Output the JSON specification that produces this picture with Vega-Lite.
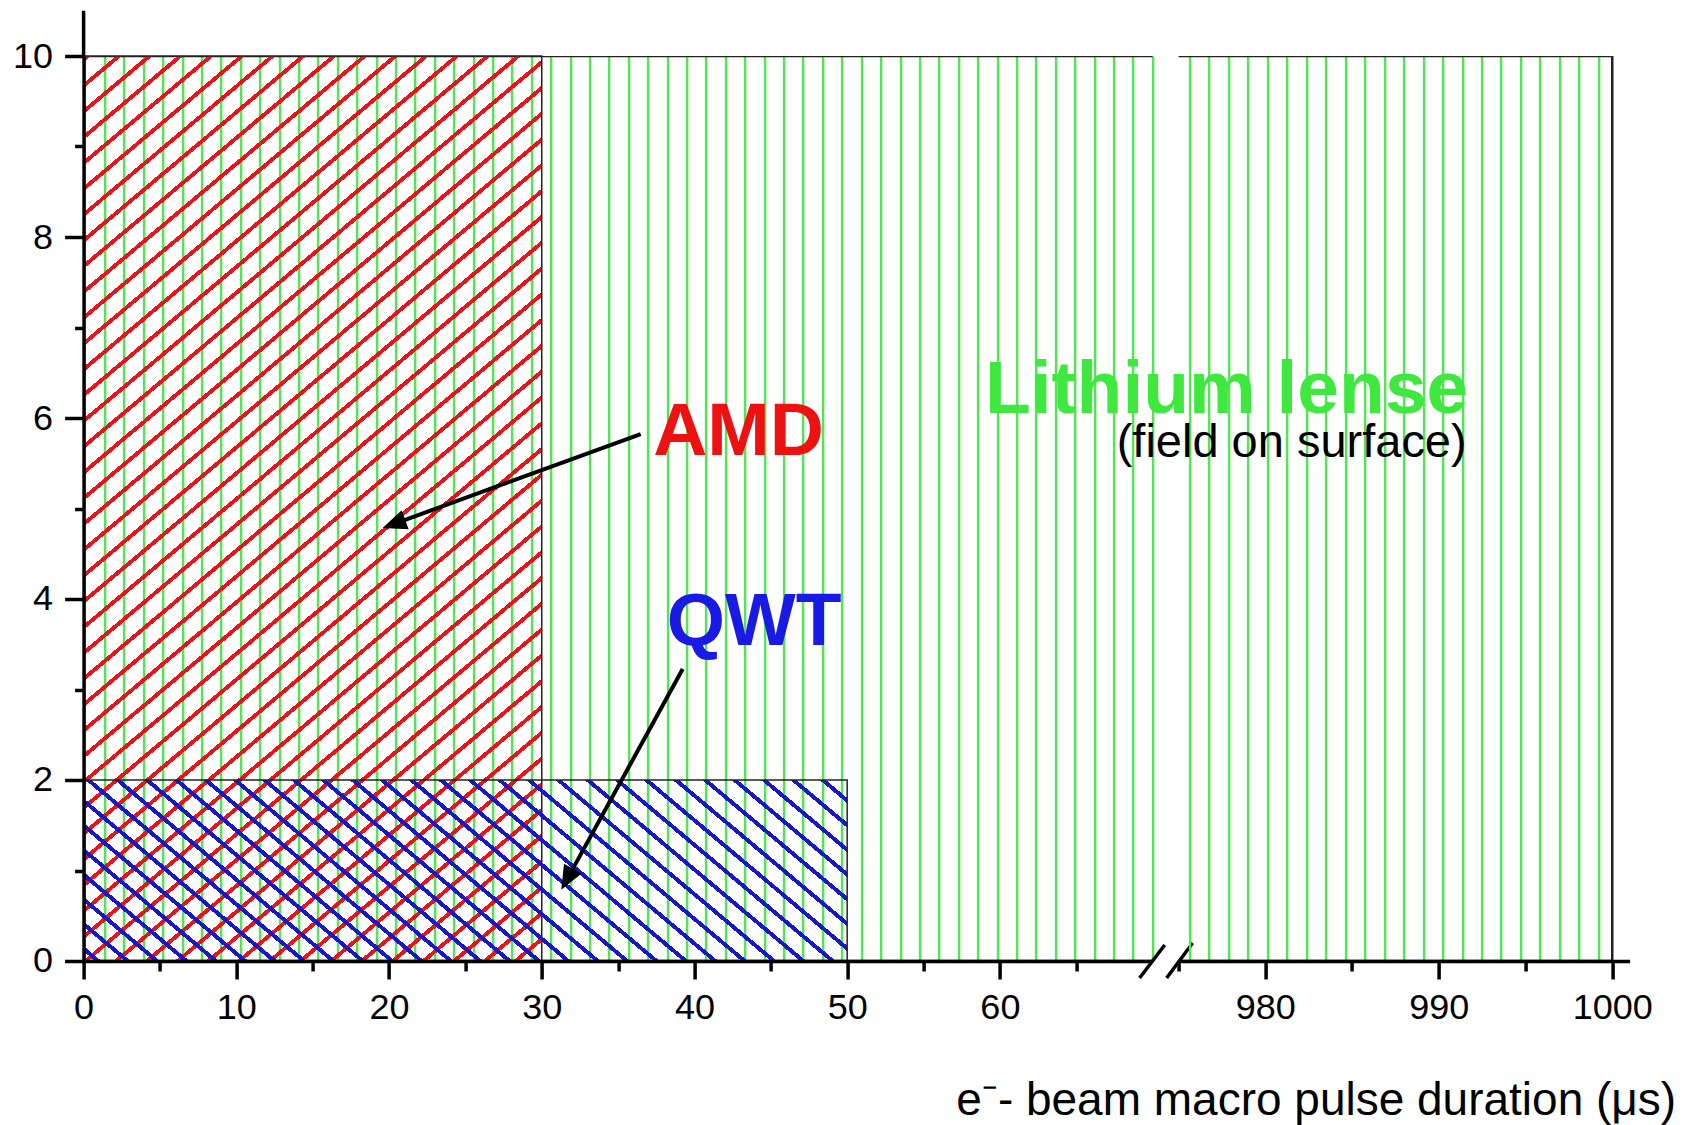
{
  "$schema": "https://vega.github.io/schema/vega-lite/v6.json",
  "background": "white",
  "padding": {"left": 11.6, "top": 8, "right": 5, "bottom": 5},
  "autosize": {"type": "pad"},
  "bounds": "flush",
  "spacing": 26,
  "config": {
    "view": {"stroke": null},
    "font": "Liberation Sans",
    "axis": {"domainColor": "#000", "domainWidth": 3.5, "tickColor": "#000", "tickWidth": 3.5, "labelColor": "#000", "labelFont": "Liberation Sans", "titleFont": "Liberation Sans", "titleColor": "#000", "labelFlush": false}
  },
  "data": {"values": [
    {"device": "Lithium lense", "t_min": 0, "t_max": 1000, "field": 10},
    {"device": "AMD", "t_min": 0, "t_max": 30, "field": 10},
    {"device": "QWT", "t_min": 0, "t_max": 50, "field": 2}
  ]},
  "hconcat": [
    {
      "width": 1069,
      "height": 905,
      "resolve": {"axis": {"x": "independent", "y": "independent"}},
      "layer": [
        {
          "transform": [{"filter": "datum.device === 'Lithium lense'"}],
          "mark": {"type": "rect", "clip": true, "fill": "transparent", "stroke": "#222", "strokeWidth": 2.5},
          "encoding": {
            "x": {"field": "t_min", "type": "quantitative", "scale": {"domain": [0, 70], "nice": false, "zero": false},
              "axis": {"orient": "bottom", "values": [0,5,10,15,20,25,30,35,40,45,50,55,60,65], "labelExpr": "datum.value % 10 === 0 ? datum.label : ''", "tickSize": {"condition": {"test": "datum.value % 10 === 0", "value": 18}, "value": 10}, "labelFontSize": 36, "labelPadding": 12, "labelFlush": false, "title": null, "grid": false, "zindex": 1}},
            "x2": {"field": "t_max"},
            "y": {"field": "field", "type": "quantitative", "scale": {"domain": [0, 10], "nice": false},
              "axis": {"orient": "left", "values": [0,2,4,6,8,10], "tickSize": 19, "labelFontSize": 36, "labelPadding": 12, "labelFlush": false, "title": null, "grid": false, "zindex": 1}},
            "y2": {"datum": 0}
          }
        },
        {
          "transform": [{"filter": "datum.device === 'AMD'"}],
          "mark": {"type": "rect", "stroke": "#222", "strokeWidth": 1.5,
            "fill": {"gradient": "linear", "x1": 0, "y1": 0, "x2": 0.5129, "y2": 1.207, "stops": [
{"offset":0.001,"color":"transparent"},{"offset":0.001,"color":"#e8141c"},{"offset":0.005,"color":"#e8141c"},{"offset":0.005,"color":"transparent"},
{"offset":0.021,"color":"transparent"},{"offset":0.021,"color":"#e8141c"},{"offset":0.025,"color":"#e8141c"},{"offset":0.025,"color":"transparent"},
{"offset":0.041,"color":"transparent"},{"offset":0.041,"color":"#e8141c"},{"offset":0.045,"color":"#e8141c"},{"offset":0.045,"color":"transparent"},
{"offset":0.061,"color":"transparent"},{"offset":0.061,"color":"#e8141c"},{"offset":0.065,"color":"#e8141c"},{"offset":0.065,"color":"transparent"},
{"offset":0.081,"color":"transparent"},{"offset":0.081,"color":"#e8141c"},{"offset":0.085,"color":"#e8141c"},{"offset":0.085,"color":"transparent"},
{"offset":0.101,"color":"transparent"},{"offset":0.101,"color":"#e8141c"},{"offset":0.105,"color":"#e8141c"},{"offset":0.105,"color":"transparent"},
{"offset":0.121,"color":"transparent"},{"offset":0.121,"color":"#e8141c"},{"offset":0.125,"color":"#e8141c"},{"offset":0.125,"color":"transparent"},
{"offset":0.141,"color":"transparent"},{"offset":0.141,"color":"#e8141c"},{"offset":0.145,"color":"#e8141c"},{"offset":0.145,"color":"transparent"},
{"offset":0.161,"color":"transparent"},{"offset":0.161,"color":"#e8141c"},{"offset":0.165,"color":"#e8141c"},{"offset":0.165,"color":"transparent"},
{"offset":0.181,"color":"transparent"},{"offset":0.181,"color":"#e8141c"},{"offset":0.185,"color":"#e8141c"},{"offset":0.185,"color":"transparent"},
{"offset":0.201,"color":"transparent"},{"offset":0.201,"color":"#e8141c"},{"offset":0.205,"color":"#e8141c"},{"offset":0.205,"color":"transparent"},
{"offset":0.221,"color":"transparent"},{"offset":0.221,"color":"#e8141c"},{"offset":0.225,"color":"#e8141c"},{"offset":0.225,"color":"transparent"},
{"offset":0.241,"color":"transparent"},{"offset":0.241,"color":"#e8141c"},{"offset":0.245,"color":"#e8141c"},{"offset":0.245,"color":"transparent"},
{"offset":0.261,"color":"transparent"},{"offset":0.261,"color":"#e8141c"},{"offset":0.265,"color":"#e8141c"},{"offset":0.265,"color":"transparent"},
{"offset":0.281,"color":"transparent"},{"offset":0.281,"color":"#e8141c"},{"offset":0.285,"color":"#e8141c"},{"offset":0.285,"color":"transparent"},
{"offset":0.301,"color":"transparent"},{"offset":0.301,"color":"#e8141c"},{"offset":0.305,"color":"#e8141c"},{"offset":0.305,"color":"transparent"},
{"offset":0.321,"color":"transparent"},{"offset":0.321,"color":"#e8141c"},{"offset":0.325,"color":"#e8141c"},{"offset":0.325,"color":"transparent"},
{"offset":0.341,"color":"transparent"},{"offset":0.341,"color":"#e8141c"},{"offset":0.345,"color":"#e8141c"},{"offset":0.345,"color":"transparent"},
{"offset":0.361,"color":"transparent"},{"offset":0.361,"color":"#e8141c"},{"offset":0.365,"color":"#e8141c"},{"offset":0.365,"color":"transparent"},
{"offset":0.381,"color":"transparent"},{"offset":0.381,"color":"#e8141c"},{"offset":0.385,"color":"#e8141c"},{"offset":0.385,"color":"transparent"},
{"offset":0.401,"color":"transparent"},{"offset":0.401,"color":"#e8141c"},{"offset":0.405,"color":"#e8141c"},{"offset":0.405,"color":"transparent"},
{"offset":0.421,"color":"transparent"},{"offset":0.421,"color":"#e8141c"},{"offset":0.425,"color":"#e8141c"},{"offset":0.425,"color":"transparent"},
{"offset":0.441,"color":"transparent"},{"offset":0.441,"color":"#e8141c"},{"offset":0.445,"color":"#e8141c"},{"offset":0.445,"color":"transparent"},
{"offset":0.461,"color":"transparent"},{"offset":0.461,"color":"#e8141c"},{"offset":0.465,"color":"#e8141c"},{"offset":0.465,"color":"transparent"},
{"offset":0.481,"color":"transparent"},{"offset":0.481,"color":"#e8141c"},{"offset":0.485,"color":"#e8141c"},{"offset":0.485,"color":"transparent"},
{"offset":0.501,"color":"transparent"},{"offset":0.501,"color":"#e8141c"},{"offset":0.505,"color":"#e8141c"},{"offset":0.505,"color":"transparent"},
{"offset":0.521,"color":"transparent"},{"offset":0.521,"color":"#e8141c"},{"offset":0.525,"color":"#e8141c"},{"offset":0.525,"color":"transparent"},
{"offset":0.541,"color":"transparent"},{"offset":0.541,"color":"#e8141c"},{"offset":0.545,"color":"#e8141c"},{"offset":0.545,"color":"transparent"},
{"offset":0.561,"color":"transparent"},{"offset":0.561,"color":"#e8141c"},{"offset":0.565,"color":"#e8141c"},{"offset":0.565,"color":"transparent"},
{"offset":0.581,"color":"transparent"},{"offset":0.581,"color":"#e8141c"},{"offset":0.585,"color":"#e8141c"},{"offset":0.585,"color":"transparent"},
{"offset":0.601,"color":"transparent"},{"offset":0.601,"color":"#e8141c"},{"offset":0.605,"color":"#e8141c"},{"offset":0.605,"color":"transparent"},
{"offset":0.621,"color":"transparent"},{"offset":0.621,"color":"#e8141c"},{"offset":0.625,"color":"#e8141c"},{"offset":0.625,"color":"transparent"},
{"offset":0.641,"color":"transparent"},{"offset":0.641,"color":"#e8141c"},{"offset":0.645,"color":"#e8141c"},{"offset":0.645,"color":"transparent"},
{"offset":0.661,"color":"transparent"},{"offset":0.661,"color":"#e8141c"},{"offset":0.665,"color":"#e8141c"},{"offset":0.665,"color":"transparent"},
{"offset":0.681,"color":"transparent"},{"offset":0.681,"color":"#e8141c"},{"offset":0.685,"color":"#e8141c"},{"offset":0.685,"color":"transparent"},
{"offset":0.701,"color":"transparent"},{"offset":0.701,"color":"#e8141c"},{"offset":0.705,"color":"#e8141c"},{"offset":0.705,"color":"transparent"},
{"offset":0.721,"color":"transparent"},{"offset":0.721,"color":"#e8141c"},{"offset":0.725,"color":"#e8141c"},{"offset":0.725,"color":"transparent"},
{"offset":0.741,"color":"transparent"},{"offset":0.741,"color":"#e8141c"},{"offset":0.745,"color":"#e8141c"},{"offset":0.745,"color":"transparent"},
{"offset":0.761,"color":"transparent"},{"offset":0.761,"color":"#e8141c"},{"offset":0.765,"color":"#e8141c"},{"offset":0.765,"color":"transparent"},
{"offset":0.781,"color":"transparent"},{"offset":0.781,"color":"#e8141c"},{"offset":0.785,"color":"#e8141c"},{"offset":0.785,"color":"transparent"},
{"offset":0.801,"color":"transparent"},{"offset":0.801,"color":"#e8141c"},{"offset":0.805,"color":"#e8141c"},{"offset":0.805,"color":"transparent"},
{"offset":0.821,"color":"transparent"},{"offset":0.821,"color":"#e8141c"},{"offset":0.825,"color":"#e8141c"},{"offset":0.825,"color":"transparent"},
{"offset":0.841,"color":"transparent"},{"offset":0.841,"color":"#e8141c"},{"offset":0.845,"color":"#e8141c"},{"offset":0.845,"color":"transparent"},
{"offset":0.861,"color":"transparent"},{"offset":0.861,"color":"#e8141c"},{"offset":0.865,"color":"#e8141c"},{"offset":0.865,"color":"transparent"},
{"offset":0.881,"color":"transparent"},{"offset":0.881,"color":"#e8141c"},{"offset":0.885,"color":"#e8141c"},{"offset":0.885,"color":"transparent"},
{"offset":0.901,"color":"transparent"},{"offset":0.901,"color":"#e8141c"},{"offset":0.905,"color":"#e8141c"},{"offset":0.905,"color":"transparent"},
{"offset":0.921,"color":"transparent"},{"offset":0.921,"color":"#e8141c"},{"offset":0.925,"color":"#e8141c"},{"offset":0.925,"color":"transparent"},
{"offset":0.941,"color":"transparent"},{"offset":0.941,"color":"#e8141c"},{"offset":0.945,"color":"#e8141c"},{"offset":0.945,"color":"transparent"},
{"offset":0.961,"color":"transparent"},{"offset":0.961,"color":"#e8141c"},{"offset":0.965,"color":"#e8141c"},{"offset":0.965,"color":"transparent"},
{"offset":0.981,"color":"transparent"},{"offset":0.981,"color":"#e8141c"},{"offset":0.985,"color":"#e8141c"},{"offset":0.985,"color":"transparent"}
            ]}},
          "encoding": {
            "x": {"field": "t_min", "type": "quantitative",
              "axis": {"orient": "bottom", "grid": true, "gridColor": "#55e455", "gridWidth": 2.5, "labels": false, "ticks": false, "domain": false, "title": null, "zindex": 0,
                "values": [1.375,2.646,3.916,5.187,6.457,7.728,8.998,10.269,11.539,12.81,14.08,15.351,16.621,17.892,19.162,20.433,21.703,22.974,24.244,25.515,26.785,28.056,29.326,30.597,31.867,33.138,34.408,35.679,36.949,38.22,39.49,40.761,42.031,43.302,44.572,45.843,47.113,48.384,49.654,50.925,52.195,53.466,54.736,56.007,57.277,58.548,59.818,61.089,62.359,63.63,64.9,66.171,67.441,68.712,69.982]}},
            "x2": {"field": "t_max"},
            "y": {"field": "field", "type": "quantitative",
              "axis": {"orient": "left", "values": [1,3,5,7,9], "tickSize": 9, "labels": false, "domain": false, "title": null, "grid": false, "zindex": 1}},
            "y2": {"datum": 0}
          }
        },
        {
          "transform": [{"filter": "datum.device === 'QWT'"}],
          "mark": {"type": "rect", "stroke": "#222", "strokeWidth": 1.5,
            "fill": {"gradient": "linear", "x1": 0, "y1": 1, "x2": 1.1877, "y2": 0.6646, "stops": [
{"offset":0.0118,"color":"transparent"},{"offset":0.0118,"color":"#1818c8"},{"offset":0.0182,"color":"#1818c8"},{"offset":0.0182,"color":"transparent"},
{"offset":0.0418,"color":"transparent"},{"offset":0.0418,"color":"#1818c8"},{"offset":0.0482,"color":"#1818c8"},{"offset":0.0482,"color":"transparent"},
{"offset":0.0718,"color":"transparent"},{"offset":0.0718,"color":"#1818c8"},{"offset":0.0782,"color":"#1818c8"},{"offset":0.0782,"color":"transparent"},
{"offset":0.1018,"color":"transparent"},{"offset":0.1018,"color":"#1818c8"},{"offset":0.1082,"color":"#1818c8"},{"offset":0.1082,"color":"transparent"},
{"offset":0.1318,"color":"transparent"},{"offset":0.1318,"color":"#1818c8"},{"offset":0.1382,"color":"#1818c8"},{"offset":0.1382,"color":"transparent"},
{"offset":0.1618,"color":"transparent"},{"offset":0.1618,"color":"#1818c8"},{"offset":0.1682,"color":"#1818c8"},{"offset":0.1682,"color":"transparent"},
{"offset":0.1918,"color":"transparent"},{"offset":0.1918,"color":"#1818c8"},{"offset":0.1982,"color":"#1818c8"},{"offset":0.1982,"color":"transparent"},
{"offset":0.2218,"color":"transparent"},{"offset":0.2218,"color":"#1818c8"},{"offset":0.2282,"color":"#1818c8"},{"offset":0.2282,"color":"transparent"},
{"offset":0.2518,"color":"transparent"},{"offset":0.2518,"color":"#1818c8"},{"offset":0.2582,"color":"#1818c8"},{"offset":0.2582,"color":"transparent"},
{"offset":0.2818,"color":"transparent"},{"offset":0.2818,"color":"#1818c8"},{"offset":0.2882,"color":"#1818c8"},{"offset":0.2882,"color":"transparent"},
{"offset":0.3118,"color":"transparent"},{"offset":0.3118,"color":"#1818c8"},{"offset":0.3182,"color":"#1818c8"},{"offset":0.3182,"color":"transparent"},
{"offset":0.3418,"color":"transparent"},{"offset":0.3418,"color":"#1818c8"},{"offset":0.3482,"color":"#1818c8"},{"offset":0.3482,"color":"transparent"},
{"offset":0.3718,"color":"transparent"},{"offset":0.3718,"color":"#1818c8"},{"offset":0.3782,"color":"#1818c8"},{"offset":0.3782,"color":"transparent"},
{"offset":0.4018,"color":"transparent"},{"offset":0.4018,"color":"#1818c8"},{"offset":0.4082,"color":"#1818c8"},{"offset":0.4082,"color":"transparent"},
{"offset":0.4318,"color":"transparent"},{"offset":0.4318,"color":"#1818c8"},{"offset":0.4382,"color":"#1818c8"},{"offset":0.4382,"color":"transparent"},
{"offset":0.4618,"color":"transparent"},{"offset":0.4618,"color":"#1818c8"},{"offset":0.4682,"color":"#1818c8"},{"offset":0.4682,"color":"transparent"},
{"offset":0.4918,"color":"transparent"},{"offset":0.4918,"color":"#1818c8"},{"offset":0.4982,"color":"#1818c8"},{"offset":0.4982,"color":"transparent"},
{"offset":0.5218,"color":"transparent"},{"offset":0.5218,"color":"#1818c8"},{"offset":0.5282,"color":"#1818c8"},{"offset":0.5282,"color":"transparent"},
{"offset":0.5518,"color":"transparent"},{"offset":0.5518,"color":"#1818c8"},{"offset":0.5582,"color":"#1818c8"},{"offset":0.5582,"color":"transparent"},
{"offset":0.5818,"color":"transparent"},{"offset":0.5818,"color":"#1818c8"},{"offset":0.5882,"color":"#1818c8"},{"offset":0.5882,"color":"transparent"},
{"offset":0.6118,"color":"transparent"},{"offset":0.6118,"color":"#1818c8"},{"offset":0.6182,"color":"#1818c8"},{"offset":0.6182,"color":"transparent"},
{"offset":0.6418,"color":"transparent"},{"offset":0.6418,"color":"#1818c8"},{"offset":0.6482,"color":"#1818c8"},{"offset":0.6482,"color":"transparent"},
{"offset":0.6718,"color":"transparent"},{"offset":0.6718,"color":"#1818c8"},{"offset":0.6782,"color":"#1818c8"},{"offset":0.6782,"color":"transparent"},
{"offset":0.7018,"color":"transparent"},{"offset":0.7018,"color":"#1818c8"},{"offset":0.7082,"color":"#1818c8"},{"offset":0.7082,"color":"transparent"},
{"offset":0.7318,"color":"transparent"},{"offset":0.7318,"color":"#1818c8"},{"offset":0.7382,"color":"#1818c8"},{"offset":0.7382,"color":"transparent"},
{"offset":0.7618,"color":"transparent"},{"offset":0.7618,"color":"#1818c8"},{"offset":0.7682,"color":"#1818c8"},{"offset":0.7682,"color":"transparent"},
{"offset":0.7918,"color":"transparent"},{"offset":0.7918,"color":"#1818c8"},{"offset":0.7982,"color":"#1818c8"},{"offset":0.7982,"color":"transparent"},
{"offset":0.8218,"color":"transparent"},{"offset":0.8218,"color":"#1818c8"},{"offset":0.8282,"color":"#1818c8"},{"offset":0.8282,"color":"transparent"},
{"offset":0.8518,"color":"transparent"},{"offset":0.8518,"color":"#1818c8"},{"offset":0.8582,"color":"#1818c8"},{"offset":0.8582,"color":"transparent"},
{"offset":0.8818,"color":"transparent"},{"offset":0.8818,"color":"#1818c8"},{"offset":0.8882,"color":"#1818c8"},{"offset":0.8882,"color":"transparent"},
{"offset":0.9118,"color":"transparent"},{"offset":0.9118,"color":"#1818c8"},{"offset":0.9182,"color":"#1818c8"},{"offset":0.9182,"color":"transparent"},
{"offset":0.9418,"color":"transparent"},{"offset":0.9418,"color":"#1818c8"},{"offset":0.9482,"color":"#1818c8"},{"offset":0.9482,"color":"transparent"},
{"offset":0.9718,"color":"transparent"},{"offset":0.9718,"color":"#1818c8"},{"offset":0.9782,"color":"#1818c8"},{"offset":0.9782,"color":"transparent"}
            ]}},
          "encoding": {
            "x": {"field": "t_min", "type": "quantitative", "axis": null},
            "x2": {"field": "t_max"},
            "y": {"field": "field", "type": "quantitative", "axis": null},
            "y2": {"datum": 0}
          }
        },
        {
          "transform": [{"filter": "datum.device === 'AMD'"}],
          "mark": {"type": "rule", "color": "#000", "strokeWidth": 4},
          "encoding": {"x": {"datum": 36.48, "axis": null}, "y": {"datum": 5.823, "axis": null}, "x2": {"datum": 20.2}, "y2": {"datum": 4.822}}
        },
        {
          "transform": [{"filter": "datum.device === 'AMD'"}],
          "mark": {"type": "point", "shape": "M0,0L0.42,1L-0.42,1Z", "filled": true, "color": "#000", "opacity": 1, "size": 2304, "angle": 250, "strokeWidth": 0},
          "encoding": {"x": {"datum": 19.58, "axis": null}, "y": {"datum": 4.785, "axis": null}}
        },
        {
          "transform": [{"filter": "datum.device === 'QWT'"}],
          "mark": {"type": "rule", "color": "#000", "strokeWidth": 4},
          "encoding": {"x": {"datum": 39.23, "axis": null}, "y": {"datum": 3.227, "axis": null}, "x2": {"datum": 31.6}, "y2": {"datum": 0.885}}
        },
        {
          "transform": [{"filter": "datum.device === 'QWT'"}],
          "mark": {"type": "point", "shape": "M0,0L0.42,1L-0.42,1Z", "filled": true, "color": "#000", "opacity": 1, "size": 2304, "angle": 208.8, "strokeWidth": 0},
          "encoding": {"x": {"datum": 31.28, "axis": null}, "y": {"datum": 0.788, "axis": null}}
        },
        {
          "transform": [{"filter": "datum.device === 'AMD'"}],
          "mark": {"type": "text", "font": "Liberation Sans", "fontSize": 75, "fontWeight": "bold", "color": "#ee1111", "align": "center", "baseline": "alphabetic"},
          "encoding": {"x": {"datum": 42.89, "axis": null}, "y": {"datum": 5.59, "axis": null}, "text": {"field": "device"}}
        },
        {
          "transform": [{"filter": "datum.device === 'QWT'"}],
          "mark": {"type": "text", "font": "Liberation Sans", "fontSize": 75, "fontWeight": "bold", "color": "#1a1ae6", "align": "center", "baseline": "alphabetic"},
          "encoding": {"x": {"datum": 43.91, "axis": null}, "y": {"datum": 3.49, "axis": null}, "text": {"field": "device"}}
        },
        {
          "transform": [{"filter": "datum.device === 'Lithium lense'"}],
          "mark": {"type": "rule", "color": "#000", "strokeWidth": 3.5},
          "encoding": {"x": {"datum": 0, "axis": null}, "y": {"datum": 10, "axis": null}, "y2": {"datum": 10.5}}
        },
        {
          "transform": [{"filter": "datum.device === 'Lithium lense'"}],
          "mark": {"type": "rule", "color": "#000", "strokeWidth": 3.5},
          "encoding": {"x": {"datum": 69.15, "axis": null}, "y": {"datum": -0.188, "axis": null}, "x2": {"datum": 70.79}, "y2": {"datum": 0.177}}
        },
        {
          "transform": [{"filter": "datum.device === 'Lithium lense'"}],
          "mark": {"type": "rule", "color": "#000", "strokeWidth": 3.5},
          "encoding": {"x": {"datum": 70.92, "axis": null}, "y": {"datum": -0.188, "axis": null}, "x2": {"datum": 72.62}, "y2": {"datum": 0.199}}
        }
      ]
    },
    {
      "width": 451,
      "height": 905,
      "resolve": {"axis": {"x": "independent"}},
      "layer": [
        {
          "transform": [{"filter": "datum.device === 'Lithium lense'"}],
          "mark": {"type": "rect", "clip": true, "fill": "transparent", "stroke": "#222", "strokeWidth": 2.5},
          "encoding": {
            "x": {"field": "t_min", "type": "quantitative", "scale": {"domain": [975, 1001], "nice": false, "zero": false},
              "axis": {"orient": "bottom", "values": [975,980,985,990,995,1000], "format": "d", "labelExpr": "datum.value % 10 === 0 ? datum.label : ''", "tickSize": {"condition": {"test": "datum.value % 10 === 0", "value": 18}, "value": 10}, "labelFontSize": 36, "labelPadding": 12, "labelFlush": false, "grid": false, "zindex": 1,
                "title": "e⁻- beam macro pulse duration (μs)", "titleFontSize": 46, "titleFontWeight": "normal", "titleAlign": "right", "titleBaseline": "alphabetic", "titleX": 497, "titleY": 154}},
            "x2": {"field": "t_max"},
            "y": {"field": "field", "type": "quantitative", "scale": {"domain": [0, 10], "nice": false}, "axis": null},
            "y2": {"datum": 0}
          }
        },
        {
          "transform": [{"filter": "datum.device === 'Lithium lense'"}],
          "mark": {"type": "text", "font": "Liberation Sans", "fontSize": 75, "fontWeight": "bold", "color": "#3ee83e", "align": "center", "baseline": "alphabetic"},
          "encoding": {
            "x": {"datum": 977.77,
              "axis": {"orient": "bottom", "grid": true, "gridColor": "#55e455", "gridWidth": 2.5, "labels": false, "ticks": false, "domain": false, "title": null, "zindex": 0,
                "values": [975.632,976.754,977.877,978.999,980.121,981.244,982.366,983.488,984.61,985.733,986.855,987.977,989.1,990.222,991.344,992.467,993.589,994.711,995.833,996.956,998.078,999.2]}},
            "y": {"datum": 6.06, "axis": null},
            "text": {"field": "device"}
          }
        },
        {
          "transform": [{"filter": "datum.device === 'Lithium lense'"}],
          "mark": {"type": "text", "text": "(field on surface)", "font": "Liberation Sans", "fontSize": 47, "color": "#000", "align": "center", "baseline": "alphabetic"},
          "encoding": {"x": {"datum": 981.52, "axis": null}, "y": {"datum": 5.57, "axis": null}}
        }
      ]
    }
  ]
}
